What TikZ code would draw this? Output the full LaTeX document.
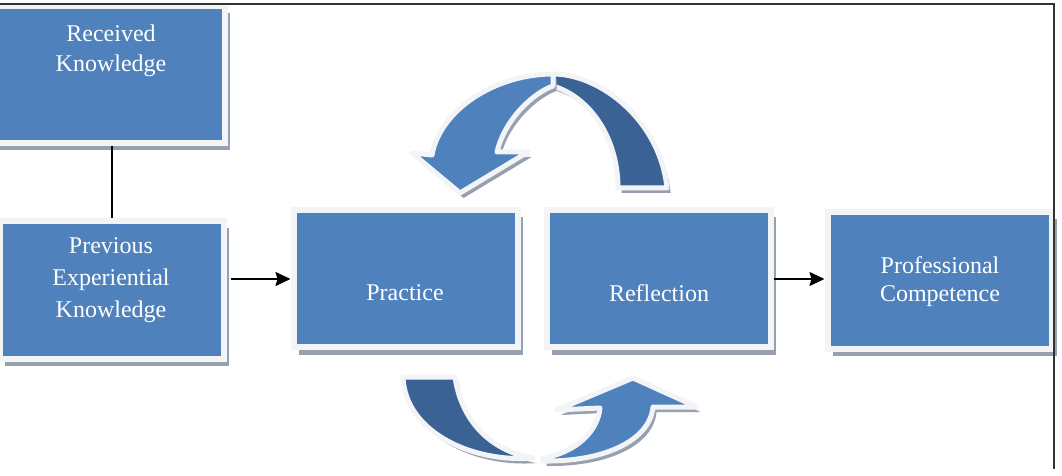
\documentclass[tikz,border=0pt]{standalone}
\usepackage{fontspec}
\setmainfont{Liberation Serif}
\usetikzlibrary{arrows.meta,shadows}

\definecolor{boxblue}{RGB}{79,129,189}
\definecolor{darkband}{RGB}{58,98,148}
\definecolor{framewhite}{RGB}{243,244,246}
\definecolor{shadowgray}{RGB}{150,160,175}

\tikzset{
  box/.style={draw=framewhite, line width=3pt, fill=boxblue, inner sep=0pt,
    minimum width=112pt, minimum height=68.5pt,
    drop shadow={shadow xshift=2.5pt, shadow yshift=-3.5pt, fill=shadowgray, opacity=1}},
  boxtext/.style={text=white, align=center, font=\fontsize{12}{15}\selectfont},
  band/.style={draw=framewhite, line width=2.5pt, line join=round,
    drop shadow={shadow xshift=1.8pt, shadow yshift=-2.5pt, fill=shadowgray, opacity=1}},
  arr/.style={-{Stealth[length=7.5pt,width=7pt,inset=1pt]}, line width=0.9pt}
}

\begin{document}
\begin{tikzpicture}[x=0.5pt,y=-0.5pt]
\clip (0,0) rectangle (1062,476);

% the five boxes
\node[box, minimum width=116pt] (recv) at (109,74.5) {};
\node[box] (prev) at (112,290) {};
\node[box] (prac) at (405.5,279) {};
\node[box] (refl) at (659,279) {};
\node[box] (prof) at (939.5,280.5) {};

\node[boxtext] (recvtext) at (111,51) {Received\\Knowledge};
\node[boxtext, font=\fontsize{12}{16}\selectfont] (prevtext) at (111,280) {Previous\\Experiential\\Knowledge};
\node[boxtext] (practext) at (405,293) {Practice};
\node[boxtext] (refltext) at (659,293) {Reflection};
\node[boxtext, font=\fontsize{12}{14}\selectfont] (proftext) at (940,282) {Professional\\Competence};

% connectors
\draw[line width=1pt] (prev.north |- recv.south) -- (prev.north);
\draw[arr, shorten <=2pt] (prev.east |- prac.west) -- (prac.west);
\draw[arr, line width=0.7pt] (refl.east) -- (refl.east -| prof.west);

% curved arrow on top
\draw[band, fill=darkband] (553,74) .. controls (600,74) and (660,120) .. (667,188)
  -- (618,188) .. controls (618,140) and (592,98) .. (553,86) -- cycle;
\draw[band, fill=boxblue] (412,153) -- (432,155) .. controls (440,110) and (495,74) .. (553,74)
  -- (553,86) .. controls (535,92) and (505,118) .. (497,152) -- (528,152) -- (460,193) -- cycle;

% curved arrow below
\draw[band, fill=darkband] (403,377) -- (455,377) .. controls (462,425) and (495,452) .. (533,458)
  .. controls (472,463) and (405,432) .. (403,377) -- cycle;
\draw[band, fill=boxblue] (543,458) .. controls (578,452) and (598,430) .. (600,408)
  -- (557,410) -- (633,378) -- (697,407) -- (653,407)
  .. controls (650,440) and (605,462) .. (543,461) -- cycle;

% frame
\draw[line width=1pt, black!80] (0,4) -- (1054,4) -- (1054,469);
\end{tikzpicture}
\end{document}
